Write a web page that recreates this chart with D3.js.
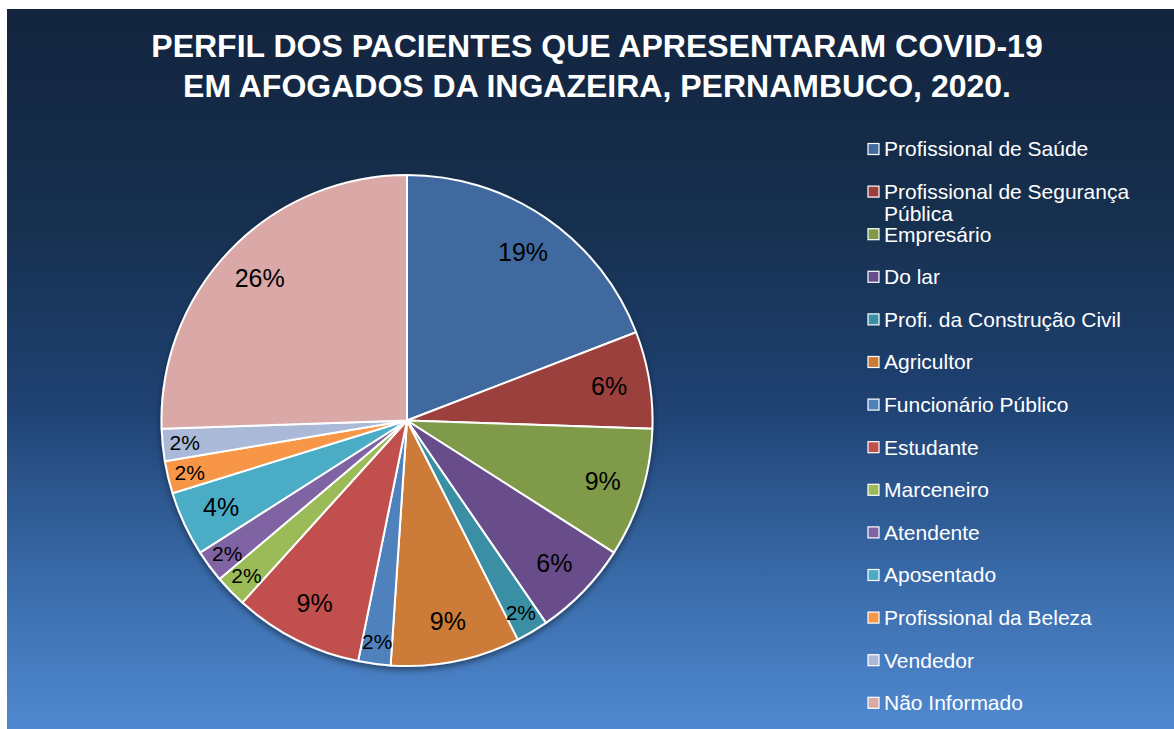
<!DOCTYPE html>
<html>
<head>
<meta charset="utf-8">
<script src="https://cdn.jsdelivr.net/npm/d3@7"></script>
<style>
  html, body { margin: 0; padding: 0; background: #ffffff; }
  svg { display: block; font-family: "Liberation Sans", Arial, sans-serif; }
</style>
</head>
<body>
<div id="chart"></div>
<script>
// Chart data
const categories = [
    "Profissional de Saúde",
    "Profissional de Segurança Pública",
    "Empresário",
    "Do lar",
    "Profi. da Construção Civil",
    "Agricultor",
    "Funcionário Público",
    "Estudante",
    "Marceneiro",
    "Atendente",
    "Aposentado",
    "Profissional da Beleza",
    "Vendedor",
    "Não Informado"
];
const patients = [9, 3, 4, 3, 1, 4, 1, 4, 1, 1, 2, 1, 1, 12];
const sliceColors = [
    "#416a9f", "#9c3f3c", "#7f9b48", "#674e8a", "#3a8fa4", "#cc7b37",
    "#4f81bd", "#c0504d", "#9bbb59", "#8064a2", "#4bacc6", "#f79646",
    "#aab9d7", "#d9a8a7"
];
const titleLines = [
    "PERFIL DOS PACIENTES QUE APRESENTARAM COVID-19",
    "EM AFOGADOS DA INGAZEIRA, PERNAMBUCO, 2020."
];

const width = 1174, height = 729;
const chartArea = { x: 7, y: 9 };
const center = { x: 407, y: 420.5 };
const radius = 245.5;

const svg = d3.select("#chart").append("svg")
    .attr("width", width)
    .attr("height", height);

const defs = svg.append("defs");

// Background gradient (dark navy to lighter blue)
const grad = defs.append("linearGradient")
    .attr("id", "bg")
    .attr("x1", 0).attr("y1", 0).attr("x2", 0).attr("y2", 1);
[
    [0, "#13243e"], [0.3, "#16304f"], [0.55, "#1f4273"],
    [0.8, "#3a6cab"], [1, "#5089d0"]
].forEach(([o, c]) => grad.append("stop").attr("offset", o).attr("stop-color", c));

// Soft shadow under the pie
const shadow = defs.append("filter")
    .attr("id", "shadow")
    .attr("x", "-10%").attr("y", "-10%")
    .attr("width", "120%").attr("height", "125%");
shadow.append("feDropShadow")
    .attr("dx", 0).attr("dy", 3)
    .attr("stdDeviation", 3)
    .attr("flood-color", "#000")
    .attr("flood-opacity", 0.45);

svg.append("rect")
    .attr("x", chartArea.x).attr("y", chartArea.y)
    .attr("width", width - chartArea.x).attr("height", height - chartArea.y)
    .attr("fill", "url(#bg)");

// Title
svg.append("g")
    .selectAll("text")
    .data(titleLines)
    .join("text")
    .attr("x", 597)
    .attr("y", (d, i) => 57 + i * 40)
    .attr("text-anchor", "middle")
    .attr("fill", "#ffffff")
    .attr("font-size", 32)
    .attr("font-weight", "bold")
    .text(d => d);

// Pie
const total = d3.sum(patients);
const pie = d3.pie().sort(null).value(d => d);
const arcs = pie(patients);
const arc = d3.arc().innerRadius(0).outerRadius(radius);

const pieGroup = svg.append("g")
    .attr("transform", `translate(${center.x},${center.y})`);

pieGroup.append("g")
    .attr("filter", "url(#shadow)")
    .selectAll("path")
    .data(arcs)
    .join("path")
    .attr("d", arc)
    .attr("fill", (d, i) => sliceColors[i])
    .attr("stroke", "#ffffff")
    .attr("stroke-width", 2)
    .attr("stroke-linejoin", "round");

// Data labels (percentages)
const fmt = d => Math.round(d / total * 100) + "%";
pieGroup.append("g")
    .selectAll("text")
    .data(arcs)
    .join("text")
    .each(function(d) {
        const small = d.data / total < 0.03;
        const r = small ? radius * 0.91 : radius * 0.835;
        const a = (d.startAngle + d.endAngle) / 2;
        d3.select(this)
            .attr("x", Math.sin(a) * r)
            .attr("y", -Math.cos(a) * r)
            .attr("font-size", small ? 21 : 25);
    })
    .attr("text-anchor", "middle")
    .attr("dominant-baseline", "central")
    .attr("fill", "#000000")
    .text(d => fmt(d.data));

// Legend
const legendX = 868, legendY0 = 149, legendStep = 42.6, maxTextWidth = 262;
const legend = svg.append("g");
const items = legend.selectAll("g")
    .data(categories)
    .join("g")
    .attr("transform", (d, i) => `translate(${legendX},${legendY0 + i * legendStep})`);

items.append("rect")
    .attr("x", 0).attr("y", -5.5)
    .attr("width", 11).attr("height", 11)
    .attr("fill", (d, i) => sliceColors[i])
    .attr("stroke", "#ffffff")
    .attr("stroke-width", 1.2);

items.append("text")
    .attr("x", 16)
    .attr("y", 0)
    .attr("dy", "0.35em")
    .attr("fill", "#ffffff")
    .attr("font-size", 21)
    .each(function(d) {
        // Wrap long labels onto a second line
        const t = d3.select(this);
        const words = d.split(" ");
        let line = [];
        let tspan = t.append("tspan").attr("x", 16);
        words.forEach(w => {
            line.push(w);
            tspan.text(line.join(" "));
            if (tspan.node().getComputedTextLength() > maxTextWidth && line.length > 1) {
                line.pop();
                tspan.text(line.join(" "));
                line = [w];
                tspan = t.append("tspan").attr("x", 16).attr("dy", 22).text(w);
            }
        });
    });
</script>
</body>
</html>
